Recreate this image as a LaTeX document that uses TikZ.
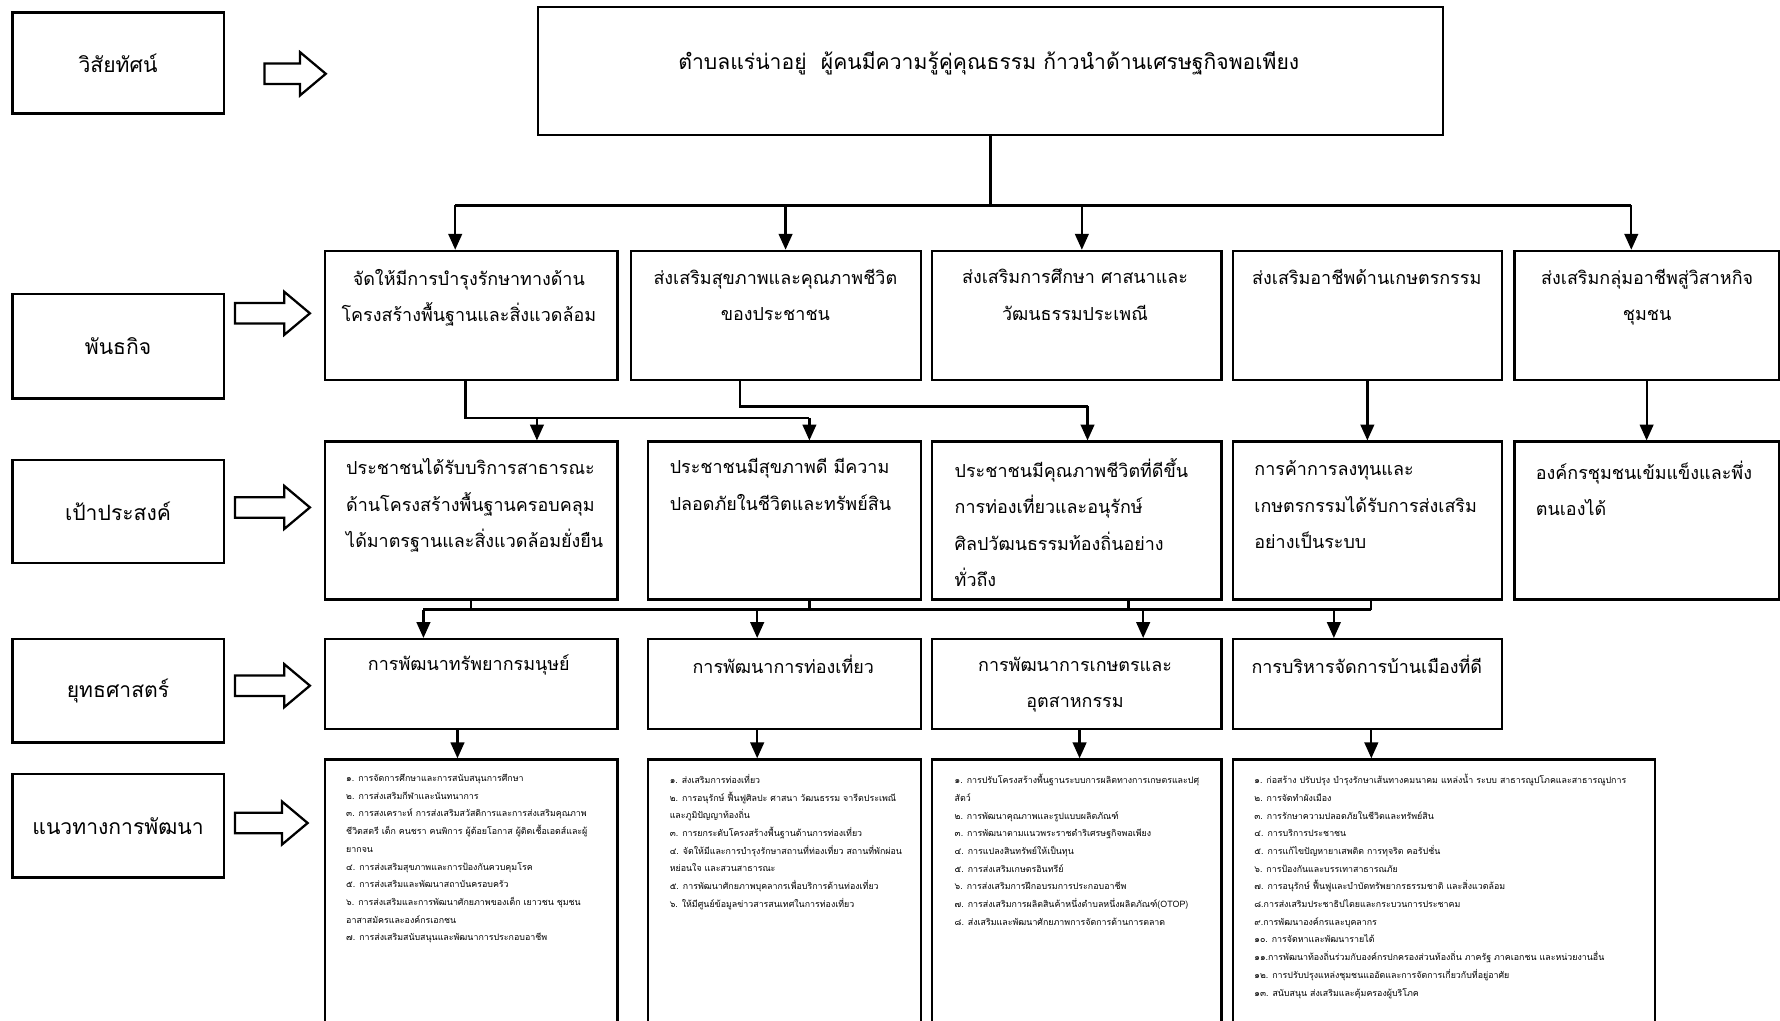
\documentclass[tikz,border=0pt]{standalone}
\usepackage{fontspec}
\newfontfamily\thaifont[Script=Thai]{Loma}
\usetikzlibrary{arrows.meta,shapes.arrows}

\tikzset{every picture/.style={line width=1pt}}
\tikzset{
  box/.style={draw, rectangle, inner sep=0pt, anchor=north west},
  lbl/.style={font=\thaifont\fontsize{9.3}{16}\selectfont},
  bodytxt/.style={font=\thaifont\fontsize{7.9}{16}\selectfont, inner sep=0pt},
  vistxt/.style={font=\thaifont\fontsize{9.3}{16}\selectfont, inner sep=0pt},
  smalltxt/.style={font=\thaifont\fontsize{3.9}{7.8}\selectfont, inner sep=0pt, align=left, anchor=north west},
  hollow/.style={draw, single arrow, inner sep=4pt, single arrow head extend=5pt, single arrow tip angle=80, anchor=tail},
  arr/.style={-{Triangle[length=7pt,width=6pt]}}
}

\begin{document}
\begin{tikzpicture}[x=0.5pt,y=0.5pt,yscale=-1,xscale=1]
\useasboundingbox (0,0) rectangle (1568,899);
%Left headings
\node [box, lbl, minimum width=93pt, minimum height=44.5pt] (lvis) at (10,10) {วิสัยทัศน์};
\node [box, lbl, minimum width=93pt, minimum height=46pt] (lmis) at (10,258) {พันธกิจ};
\node [box, lbl, minimum width=93pt, minimum height=45.5pt] (lgoal) at (10,404) {เป้าประสงค์};
\node [box, lbl, minimum width=93pt, minimum height=45.5pt] (lstrat) at (10,562) {ยุทธศาสตร์};
\node [box, lbl, minimum width=93pt, minimum height=45.5pt] (ldev) at (10,681) {แนวทางการพัฒนา};
%Block arrows
\node [hollow, minimum height=27pt] (ha1) at (232,65) {};
\node [hollow, minimum height=33pt] (ha2) at (206,276) {};
\node [hollow, minimum height=33pt] (ha3) at (206,447) {};
\node [hollow, minimum height=33pt] (ha4) at (206,604) {};
\node [hollow, minimum height=32pt] (ha5) at (206,725) {};
%Vision
\node [box, minimum width=398.5pt, minimum height=56.5pt] (vision) at (473,5) {};
% Text Node
\node [vistxt] (vistext) at (871,56) {ตำบลแร่น่าอยู่\ \ ผู้คนมีความรู้คู่คุณธรรม ก้าวนำด้านเศรษฐกิจพอเพียง};
%Missions
\node [box, minimum width=129pt, minimum height=57pt] (m1) at (285,220) {};
\node [box, minimum width=127.5pt, minimum height=57pt] (m2) at (555,220) {};
\node [box, minimum width=127.5pt, minimum height=57pt] (m3) at (820,220) {};
\node [box, minimum width=118.5pt, minimum height=57pt] (m4) at (1085,220) {};
\node [box, minimum width=116.5pt, minimum height=57pt] (m5) at (1333,220) {};
% Text Node
\node [bodytxt, anchor=north, align=center] (m1txt) at (413,236) {จัดให้มีการบำรุงรักษาทางด้าน\\โครงสร้างพื้นฐานและสิ่งแวดล้อม};
\node [bodytxt, anchor=north, align=center] (m2txt) at (683,236) {ส่งเสริมสุขภาพและคุณภาพชีวิต\\ของประชาชน};
\node [bodytxt, anchor=north, align=center] (m3txt) at (947,236) {ส่งเสริมการศึกษา ศาสนาและ\\วัฒนธรรมประเพณี};
\node [bodytxt, anchor=north, align=center] (m4txt) at (1204,236) {ส่งเสริมอาชีพด้านเกษตรกรรม};
\node [bodytxt, anchor=north, align=center] (m5txt) at (1451,236) {ส่งเสริมกลุ่มอาชีพสู่วิสาหกิจ\\ชุมชน};
%Goals
\node [box, minimum width=129pt, minimum height=69.5pt] (g1) at (285,388) {};
\node [box, minimum width=120pt, minimum height=69.5pt] (g2) at (570,388) {};
\node [box, minimum width=127.5pt, minimum height=69.5pt] (g3) at (820,388) {};
\node [box, minimum width=118.5pt, minimum height=69.5pt] (g4) at (1085,388) {};
\node [box, minimum width=116.5pt, minimum height=69.5pt] (g5) at (1333,388) {};
% Text Node
\node [bodytxt, anchor=north west, align=left] (g1txt) at (304,403) {ประชาชนได้รับบริการสาธารณะ\\ด้านโครงสร้างพื้นฐานครอบคลุม\\ได้มาตรฐานและสิ่งแวดล้อมยั่งยืน};
\node [bodytxt, anchor=north west, align=left] (g2txt) at (589,403) {ประชาชนมีสุขภาพดี มีความ\\ปลอดภัยในชีวิตและทรัพย์สิน};
\node [bodytxt, anchor=north west, align=left] (g3txt) at (840,403) {ประชาชนมีคุณภาพชีวิตที่ดีขึ้น\\การท่องเที่ยวและอนุรักษ์\\ศิลปวัฒนธรรมท้องถิ่นอย่าง\\ทั่วถึง};
\node [bodytxt, anchor=north west, align=left] (g4txt) at (1104,405) {การค้าการลงทุนและ\\เกษตรกรรมได้รับการส่งเสริม\\อย่างเป็นระบบ};
\node [bodytxt, anchor=north west, align=left] (g5txt) at (1352,405) {องค์กรชุมชนเข้มแข็งและพึ่ง\\ตนเองได้};
%Strategies
\node [box, minimum width=129pt, minimum height=39.5pt] (s1) at (285,562) {};
\node [box, minimum width=120pt, minimum height=39.5pt] (s2) at (570,562) {};
\node [box, minimum width=127.5pt, minimum height=39.5pt] (s3) at (820,562) {};
\node [box, minimum width=118.5pt, minimum height=39.5pt] (s4) at (1085,562) {};
% Text Node
\node [bodytxt, anchor=north, align=center] (s1txt) at (413,576) {การพัฒนาทรัพยากรมนุษย์};
\node [bodytxt, anchor=north, align=center] (s2txt) at (690,576) {การพัฒนาการท่องเที่ยว};
\node [bodytxt, anchor=north, align=center] (s3txt) at (947,578) {การพัฒนาการเกษตรและ\\อุตสาหกรรม};
\node [bodytxt, anchor=north, align=center] (s4txt) at (1204,576) {การบริหารจัดการบ้านเมืองที่ดี};
%Development guidelines
\node [box, minimum width=129pt, minimum height=130pt] (d1) at (285,668) {};
\node [box, minimum width=120pt, minimum height=130pt] (d2) at (570,668) {};
\node [box, minimum width=127.5pt, minimum height=130pt] (d3) at (820,668) {};
\node [box, minimum width=186pt, minimum height=130pt] (d4) at (1085,668) {};
% Text Node
\node [smalltxt] (d1txt) at (304,681) {๑. การจัดการศึกษาและการสนับสนุนการศึกษา\\๒. การส่งเสริมกีฬาและนันทนาการ\\๓. การสงเคราะห์ การส่งเสริมสวัสดิการและการส่งเสริมคุณภาพ\\ชีวิตสตรี เด็ก คนชรา คนพิการ ผู้ด้อยโอกาส ผู้ติดเชื้อเอดส์และผู้\\ยากจน\\๔. การส่งเสริมสุขภาพและการป้องกันควบคุมโรค\\๕. การส่งเสริมและพัฒนาสถาบันครอบครัว\\๖. การส่งเสริมและการพัฒนาศักยภาพของเด็ก เยาวชน ชุมชน\\อาสาสมัครและองค์กรเอกชน\\๗. การส่งเสริมสนับสนุนและพัฒนาการประกอบอาชีพ};
\node [smalltxt] (d2txt) at (589,681) {๑. ส่งเสริมการท่องเที่ยว\\๒. การอนุรักษ์ ฟื้นฟูศิลปะ ศาสนา วัฒนธรรม จารีตประเพณี\\และภูมิปัญญาท้องถิ่น\\๓. การยกระดับโครงสร้างพื้นฐานด้านการท่องเที่ยว\\๔. จัดให้มีและการบำรุงรักษาสถานที่ท่องเที่ยว สถานที่พักผ่อน\\หย่อนใจ และสวนสาธารณะ\\๕. การพัฒนาศักยภาพบุคลากรเพื่อบริการด้านท่องเที่ยว\\๖. ให้มีศูนย์ข้อมูลข่าวสารสนเทศในการท่องเที่ยว};
\node [smalltxt] (d3txt) at (840,681) {๑. การปรับโครงสร้างพื้นฐานระบบการผลิตทางการเกษตรและปศุ\\สัตว์\\๒. การพัฒนาคุณภาพและรูปแบบผลิตภัณฑ์\\๓. การพัฒนาตามแนวพระราชดำริเศรษฐกิจพอเพียง\\๔. การแปลงสินทรัพย์ให้เป็นทุน\\๕. การส่งเสริมเกษตรอินทรีย์\\๖. การส่งเสริมการฝึกอบรมการประกอบอาชีพ\\๗. การส่งเสริมการผลิตสินค้าหนึ่งตำบลหนึ่งผลิตภัณฑ์(OTOP)\\๘. ส่งเสริมและพัฒนาศักยภาพการจัดการด้านการตลาด};
\node [smalltxt] (d4txt) at (1104,681) {๑. ก่อสร้าง ปรับปรุง บำรุงรักษาเส้นทางคมนาคม แหล่งน้ำ ระบบ สาธารณูปโภคและสาธารณูปการ\\๒. การจัดทำผังเมือง\\๓. การรักษาความปลอดภัยในชีวิตและทรัพย์สิน\\๔. การบริการประชาชน\\๕. การแก้ไขปัญหายาเสพติด การทุจริต คอรัปชั่น\\๖. การป้องกันและบรรเทาสาธารณภัย\\๗. การอนุรักษ์ ฟื้นฟูและบำบัดทรัพยากรธรรมชาติ และสิ่งแวดล้อม\\๘.การส่งเสริมประชาธิปไตยและกระบวนการประชาคม\\๙.การพัฒนาองค์กรและบุคลากร\\๑๐. การจัดหาและพัฒนารายได้\\๑๑.การพัฒนาท้องถิ่นร่วมกับองค์กรปกครองส่วนท้องถิ่น ภาครัฐ ภาคเอกชน และหน่วยงานอื่น\\๑๒. การปรับปรุงแหล่งชุมชนแออัดและการจัดการเกี่ยวกับที่อยู่อาศัย\\๑๓. สนับสนุน ส่งเสริมและคุ้มครองผู้บริโภค};
%Vision to missions
\coordinate (vb1) at (401,181);
\coordinate (vb2) at (692,181);
\coordinate (vb3) at (953,181);
\coordinate (vb5) at (1437,181);
\draw (vision.south) -- (vision.south |- vb1);
\draw (vb1) -- (vb5);
\draw [arr] (vb1) -- (vb1 |- m1.north);
\draw [arr] (vb2) -- (vb2 |- m2.north);
\draw [arr] (vb3) -- (vb3 |- m3.north);
\draw [arr] (vb5) -- (vb5 |- m5.north);
%Missions to goals
\coordinate (j1) at (410,368);
\coordinate (j2) at (473,368);
\coordinate (j3) at (713,368);
\draw (j1 |- m1.south) -- (j1) -- (j3);
\draw [arr] (j2) -- (j2 |- g1.north);
\draw [arr] (j3) -- (j3 |- g2.north);
\coordinate (k1) at (652,358);
\coordinate (k2) at (958,358);
\draw (k1 |- m2.south) -- (k1) -- (k2);
\draw [arr] (k2) -- (k2 |- g3.north);
\draw [arr] (m4.south) -- (g4.north);
\draw [arr] (m5.south) -- (g5.north);
%Goals to strategies
\coordinate (gs1) at (415,537);
\coordinate (gs2) at (713,537);
\coordinate (gs3) at (994,537);
\coordinate (gs4) at (1208,537);
\coordinate (gb1) at (373,537);
\coordinate (gb2) at (667,537);
\coordinate (gb3) at (1007,537);
\coordinate (gb4) at (1175,537);
\draw (gs1 |- g1.south) -- (gs1);
\draw (gs2 |- g2.south) -- (gs2);
\draw (gs3 |- g3.south) -- (gs3);
\draw (gs4 |- g4.south) -- (gs4);
\draw (gb1) -- (gs4);
\draw [arr] (gb1) -- (gb1 |- s1.north);
\draw [arr] (gb2) -- (gb2 |- s2.north);
\draw [arr] (gb3) -- (gb3 |- s3.north);
\draw [arr] (gb4) -- (gb4 |- s4.north);
%Strategies to guidelines
\coordinate (sd1) at (403,655);
\coordinate (sd2) at (667,655);
\coordinate (sd3) at (951,655);
\coordinate (sd4) at (1208,655);
\draw [arr] (sd1 |- s1.south) -- (sd1 |- d1.north);
\draw [arr] (sd2 |- s2.south) -- (sd2 |- d2.north);
\draw [arr] (sd3 |- s3.south) -- (sd3 |- d3.north);
\draw [arr] (sd4 |- s4.south) -- (sd4 |- d4.north);
\end{tikzpicture}
\end{document}
